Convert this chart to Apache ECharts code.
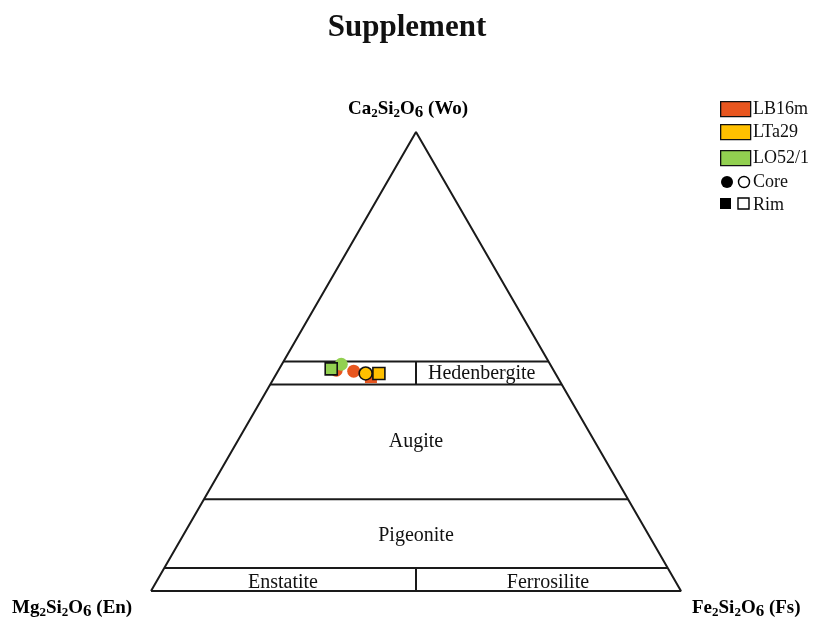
<!DOCTYPE html>
<html>
<head>
<meta charset="utf-8">
<script src="https://cdn.jsdelivr.net/npm/echarts@6/dist/echarts.min.js"></script>
<style>
    html, body { margin: 0; padding: 0; background: #fff; }
    #main { width: 814px; height: 626px; }
</style>
</head>
<body>
<div id="main"></div>
<script>
// compositions as [Wo, En, Fs] in %
var samples = ['LB16m', 'LTa29', 'LO52/1'];
var sampleColors = ['#E8561F', '#FFC000', '#92D050'];
var coreLB16m = [[48.1, 41.0, 10.9], [47.9, 37.8, 14.3]];
var rimLB16m = [[46.6, 35.2, 18.2]];
var coreLTa29 = [[47.4, 35.8, 16.8]];
var rimLTa29 = [[47.4, 33.3, 19.3]];
var coreLO52 = [[49.4, 39.4, 11.2]];
var rimLO52 = [[48.4, 41.8, 9.8]];

// field boundaries (Wo %) and the Fs/En split
var woLines = [50, 45, 20, 5];
var splitBands = [[45, 50], [0, 5]];

(function () {
    var myechart = echarts.init(document.getElementById('main'));
    var serif = '"Liberation Serif", "DejaVu Serif", serif';

    // ternary -> cartesian (x: 0..100 along base, y: Wo)
    function toXY(p) {
        var wo = p[0], en = p[1], fs = p[2];
        var s = wo + en + fs;
        wo = wo * 100 / s; fs = fs * 100 / s;
        return [fs + wo / 2, wo];
    }

    var lineStyle = { color: '#1a1a1a', width: 2 };
    var series = [];

    // triangle outline
    series.push({
        type: 'line', symbol: 'none', silent: true, lineStyle: lineStyle,
        data: [toXY([0, 100, 0]), toXY([100, 0, 0]), toXY([0, 0, 100]), toXY([0, 100, 0])]
    });
    for (var i = 0; i < woLines.length; i++) {
        var w = woLines[i];
        series.push({
            type: 'line', symbol: 'none', silent: true, lineStyle: lineStyle,
            data: [toXY([w, 100 - w, 0]), toXY([w, 0, 100 - w])]
        });
    }
    for (var j = 0; j < splitBands.length; j++) {
        var b = splitBands[j];
        series.push({
            type: 'line', symbol: 'none', silent: true, lineStyle: lineStyle,
            data: [toXY([b[0], (100 - b[0]) / 2, (100 - b[0]) / 2]), toXY([b[1], (100 - b[1]) / 2, (100 - b[1]) / 2])]
        });
    }

    // field names
    var fieldNames = [
        { name: 'Hedenbergite', value: [62.4, 47.3] },
        { name: 'Augite', value: [50, 32.5] },
        { name: 'Pigeonite', value: [50, 12.0] },
        { name: 'Enstatite', value: [24.9, 1.8] },
        { name: 'Ferrosilite', value: [74.9, 1.8] }
    ];
    series.push({
        type: 'scatter', symbolSize: 1, silent: true,
        itemStyle: { color: 'rgba(255,255,255,0)', opacity: 1 },
        label: {
            show: true, position: 'inside', formatter: '{b}',
            fontFamily: serif, fontSize: 20, color: '#111', opacity: 1
        },
        data: fieldNames
    });

    function addPoints(data, color, shape, bordered, z) {
        series.push({
            type: 'scatter', symbol: shape, symbolSize: shape == 'rect' ? 12 : 13, z: z,
            itemStyle: {
                color: color, opacity: 1,
                borderColor: bordered ? '#111' : color, borderWidth: bordered ? 1.6 : 0
            },
            data: data.map(toXY)
        });
    }
    addPoints(rimLB16m, sampleColors[0], 'rect', false, 3);
    addPoints(coreLB16m, sampleColors[0], 'circle', false, 3);
    addPoints(coreLO52, sampleColors[2], 'circle', false, 4);
    addPoints(rimLO52, sampleColors[2], 'rect', true, 5);
    addPoints(coreLTa29, sampleColors[1], 'circle', true, 5);
    addPoints(rimLTa29, sampleColors[1], 'rect', true, 5);

    var rich = {
        m: { fontFamily: serif, fontWeight: 'bold', fontSize: 19, color: '#111' },
        s: { fontFamily: serif, fontWeight: 'bold', fontSize: 13, color: '#111', padding: [9, 0, 0, 0] },
        t: { fontFamily: serif, fontWeight: 'bold', fontSize: 17, color: '#111', padding: [7, 0, 0, 0] }
    };

    // legend (hand drawn)
    var graphics = [];
    var legY = [109, 132, 158];
    for (var k = 0; k < samples.length; k++) {
        graphics.push({
            type: 'rect', left: 720, top: legY[k] - 8,
            shape: { width: 30, height: 15 },
            style: { fill: sampleColors[k], stroke: '#111', lineWidth: 1.3 }
        });
        graphics.push({
            type: 'text', left: 753, top: legY[k] - 9,
            style: { text: samples[k], font: '18px ' + serif, fill: '#111' }
        });
    }
    graphics.push({ type: 'circle', shape: { cx: 727, cy: 182, r: 6 }, style: { fill: '#000' } });
    graphics.push({ type: 'circle', shape: { cx: 744, cy: 182, r: 5.5 }, style: { fill: '#fff', stroke: '#000', lineWidth: 1.4 } });
    graphics.push({ type: 'text', left: 753, top: 173, style: { text: 'Core', font: '18px ' + serif, fill: '#111' } });
    graphics.push({ type: 'rect', shape: { x: 720, y: 198, width: 11, height: 11 }, style: { fill: '#000' } });
    graphics.push({ type: 'rect', shape: { x: 738, y: 198, width: 11, height: 11 }, style: { fill: '#fff', stroke: '#000', lineWidth: 1.4 } });
    graphics.push({ type: 'text', left: 753, top: 196, style: { text: 'Rim', font: '18px ' + serif, fill: '#111' } });

    // apex labels
    graphics.push({
        type: 'text', left: 348, top: 100,
        style: { text: '{m|Ca}{s|2}{m|Si}{s|2}{m|O}{t|6}{m| (Wo)}', rich: rich }
    });
    graphics.push({
        type: 'text', left: 12, top: 599,
        style: { text: '{m|Mg}{s|2}{m|Si}{s|2}{m|O}{t|6}{m| (En)}', rich: rich }
    });
    graphics.push({
        type: 'text', left: 692, top: 599,
        style: { text: '{m|Fe}{s|2}{m|Si}{s|2}{m|O}{t|6}{m| (Fs)}', rich: rich }
    });

    var options = {
        animation: false,
        backgroundColor: '#fff',
        title: {
            text: 'Supplement', left: 'center', top: 7,
            textStyle: { fontFamily: serif, fontWeight: 'bold', fontSize: 31, color: '#111' }
        },
        grid: { left: 151, top: 132, width: 530, height: 459 },
        xAxis: { type: 'value', min: 0, max: 100, show: false },
        yAxis: { type: 'value', min: 0, max: 100, show: false },
        graphic: graphics,
        series: series
    };
    myechart.setOption(options);
})();
</script>
</body>
</html>
